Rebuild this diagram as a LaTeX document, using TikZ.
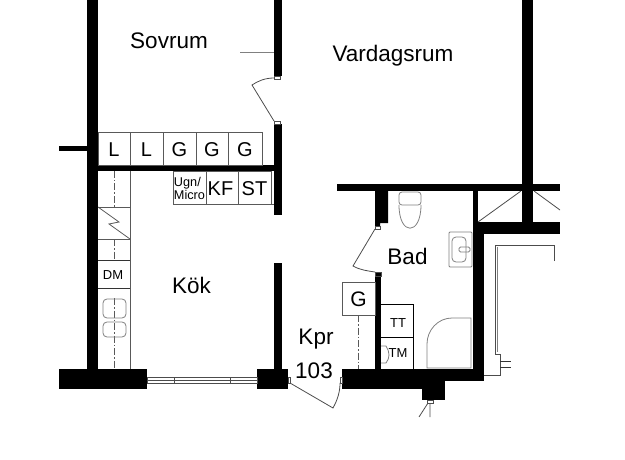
\documentclass[tikz,border=0pt]{standalone}
\usepackage{fontspec}
\setmainfont{Liberation Sans}
\usetikzlibrary{arrows.meta}
\newcommand{\planfont}[1]{\fontsize{#1}{#1}\selectfont}

\begin{document}
\begin{tikzpicture}[x=1pt,y=-1pt,
	wall/.style={fill=black,draw=none},
	cell/.style={draw=black!65,line width=.8pt},
	darkcell/.style={draw=black,line width=.8pt},
	fixture/.style={draw=black!50,line width=.8pt},
	thin line/.style={draw=black!70,line width=.8pt},
	axis line/.style={draw=black!65,line width=.7pt,dash pattern=on 7pt off 2pt on 1.5pt off 2pt},
	room/.style={font=\planfont{22.5},inner sep=0pt},
	big/.style={font=\planfont{20},inner sep=0pt},
	small/.style={font=\planfont{13},inner sep=0pt}]
	\useasboundingbox (0,0) rectangle (625,460);

	% walls
	\fill[wall] (87,0) rectangle (98,370);
	\fill[wall] (59,146) rectangle (87,151.5);
	\fill[wall] (98,165) rectangle (275,171);
	\fill[wall] (274,0) rectangle (282,76);
	\fill[wall] (274,124) rectangle (282,215);
	\fill[wall] (274,263) rectangle (282,370);
	\fill[wall] (59,369) rectangle (147,389);
	\fill[wall] (257,369) rectangle (288,389);
	\fill[wall] (342,369) rectangle (484,381);
	\fill[wall] (342,381) rectangle (445,389);
	\fill[wall] (422,389) rectangle (445,400);
	\fill[wall] (375,272) rectangle (381,369);
	\fill[wall] (375,190) -- (388,190) -- (388,223) -- (380,223) -- (380,226) -- (375,226) -- cycle;
	\fill[wall] (337,184) rectangle (560,191);
	\fill[wall] (522,0) rectangle (533,223);
	\fill[wall] (473,222) rectangle (560,234);
	\fill[wall] (473,191) rectangle (478,222);
	\fill[wall] (473,234) rectangle (484,370);

	% window
	\draw[thin line,fill=white] (147,377) rectangle (257,383.5);
	\draw[thin line] (147,380) -- (257,380) (174,377) -- (174,383.5) (230,377) -- (230,383.5);

	% doors
	\draw[thin line] (288,377) rectangle (290,383) (340,377) rectangle (342,383);
	\draw[thin line] (290,383) -- (333,408) .. controls (338,399) and (340,391) .. (340,383);
	\draw[thin line] (274,76) rectangle (280,79) (274,121) rectangle (280,124);
	\draw[thin line] (274,78) .. controls (265,78) and (258,81) .. (252,85) -- (274,121);
	\draw[thin line] (375,226) rectangle (380,229) (375,272) rectangle (381,276);
	\draw[thin line] (375,229) -- (353,266) .. controls (360,270) and (368,271) .. (375,272);
	\draw[thin line] (427,400) rectangle (433,403);
	\draw[thin line] (430,403) -- (430,417) (428,403) -- (419,417);
	\draw[fixture] (240,52) -- (274,52);

	% kitchen upper row
	\foreach \xa/\xb/\lab/\name in {98/130/L/la,130/163/L/lb,163/196/G/ga,196/228/G/gb,228/262/G/gc}{
		\draw[cell] (\xa,132) rectangle (\xb,165);
		\node[big] (\name) at ({(\xa+\xb)/2},150) {\lab};
	}
	\draw[cell] (173,171) rectangle (206,204);
	\draw[cell] (206,171) rectangle (238,204);
	\draw[cell] (238,171) rectangle (271,204) (271,204) -- (274,204);
	\node[small,align=left,font=\planfont{12.7}] (ugn) at (189.5,188.5) {Ugn/\\[1pt]Micro};
	\node[big] (kf) at (220.5,188.5) {KF};
	\node[big] (st) at (254.5,188.5) {ST};

	% kitchen left column
	\draw[cell] (130,171) -- (130,369);
	\draw[cell] (98,207) -- (130,207) (98,239) -- (130,239);
	\draw[cell] (98,207) -- (119,222) -- (109,224) -- (130,239);
	\draw[darkcell,draw=black!80] (98,260) -- (130,260) (98,288) -- (130,288);
	\node[small] (dm) at (113,275) {DM};
	\draw[axis line] (114,171) -- (114,207) (114,239) -- (114,260) (114,298) -- (114,369);
	\draw[fixture,rounded corners=4pt] (103,299) rectangle (126,318);
	\draw[fixture,rounded corners=4pt] (103,322) rectangle (126,337);

	% bathroom
	\draw[cell] (342,282) rectangle (375,315);
	\node[big,font=\planfont{21}] (gbox) at (358.5,299) {G};
	\draw[axis line] (358,315) -- (358,369);
	\draw[darkcell] (381,304) -- (413,304) -- (413,369) (381,337) -- (413,337);
	\node[small] (tt) at (398,323) {TT};
	\node[small] (tm) at (398,353) {TM};
	\draw[fixture] (381,346) -- (386,346) .. controls (390,352) and (390,358) .. (386,363) -- (381,363);
	\draw[fixture] (427,368) -- (427,344) .. controls (427,330) and (438,318) .. (452,318) -- (471,318) -- (471,368) -- cycle;
	\draw[fixture,rounded corners=3pt] (399,192) rectangle (421,205);
	\draw[fixture] (399,205) .. controls (399,236) and (421,236) .. (421,205);
	\draw[fixture,rounded corners=1pt] (449,232) rectangle (472,267);
	\draw[fixture,rounded corners=4pt] (452,237) rectangle (466,262);
	\draw[fixture,rounded corners=1.5pt] (459,247) rectangle (470,252);

	% shaft and balcony lines
	\draw[thin line] (478,222) -- (521,191) (534,191) -- (560,210);
	\draw[thin line] (554,261) -- (554,245) -- (495,245) -- (495,354) -- (500,354) -- (500,375) -- (484,375);
	\draw[thin line,draw=black!80,line width=1pt] (500,361) -- (511,361) (500,367) -- (511,367);
	\draw[fixture,line width=1pt] (497.5,247) -- (497.5,352);

	% room names
	\node[room] (sovrum) at (169,41) {Sovrum};
	\node[room] (vardagsrum) at (393,55.5) {Vardagsrum};
	\node[room] (kok) at (191.5,285) {Kök};
	\node[room] (bad) at (407.5,256) {Bad};
	\node[room] (kpr) at (316,339) {Kpr};
	\node[room] (nr) at (314,371) {103};
\end{tikzpicture}
\end{document}
